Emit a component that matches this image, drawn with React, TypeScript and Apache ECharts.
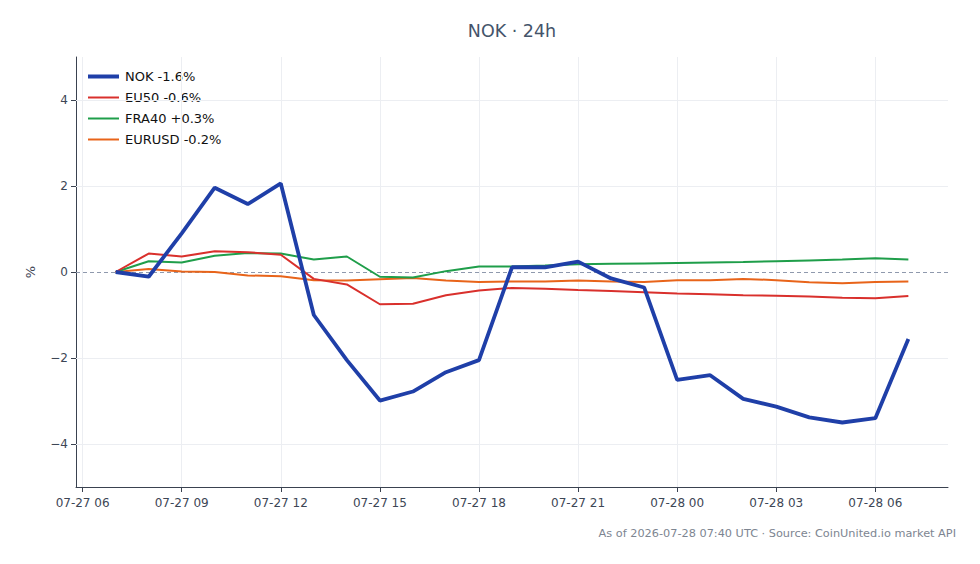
import React, { useEffect, useRef } from "react";
import * as echarts from "echarts";

// hours since 2026-07-27 00:00 UTC
const hours = [7, 8, 9, 10, 11, 12, 13, 14, 15, 16, 17, 18, 19, 20, 21, 22, 23, 24, 25, 26, 27, 28, 29, 30, 31];
const tickHours = [6, 9, 12, 15, 18, 21, 24, 27, 30];
const tickLabels = ["07-27 06", "07-27 09", "07-27 12", "07-27 15", "07-27 18", "07-27 21", "07-28 00", "07-28 03", "07-28 06"];
const yTicks = [-4, -2, 0, 2, 4];

const nok = [0, -0.11, 0.9, 1.96, 1.58, 2.06, -1.0, -2.05, -2.99, -2.78, -2.33, -2.05, 0.11, 0.11, 0.24, -0.15, -0.36, -2.51, -2.4, -2.95, -3.13, -3.38, -3.5, -3.4, -1.56];
const eu50 = [0, 0.43, 0.36, 0.48, 0.46, 0.4, -0.16, -0.29, -0.75, -0.74, -0.54, -0.43, -0.37, -0.39, -0.42, -0.44, -0.47, -0.5, -0.52, -0.54, -0.55, -0.57, -0.6, -0.61, -0.56];
const fra40 = [0, 0.25, 0.22, 0.38, 0.44, 0.43, 0.29, 0.36, -0.11, -0.13, 0.02, 0.13, 0.13, 0.15, 0.18, 0.19, 0.2, 0.21, 0.22, 0.23, 0.25, 0.27, 0.29, 0.32, 0.29];
const eurusd = [0, 0.07, 0.01, 0, -0.08, -0.1, -0.19, -0.2, -0.17, -0.14, -0.2, -0.23, -0.22, -0.22, -0.2, -0.22, -0.23, -0.19, -0.19, -0.16, -0.19, -0.24, -0.26, -0.23, -0.22];

const seriesNames = ["NOK -1.6%", "EU50 -0.6%", "FRA40 +0.3%", "EURUSD -0.2%"];
const seriesData = [nok, eu50, fra40, eurusd];
const colors = ["#1f3fa8", "#d9302c", "#1f9e4a", "#e8641a"];
const widths = [3.8, 2, 2, 2];

export default function App() {
  const ref = useRef<HTMLDivElement>(null);
  useEffect(() => {
    if (!ref.current) return;
    const chart = echarts.init(ref.current, null, { renderer: "svg" });
    const font = "DejaVu Sans";
    const gridLine = (data: any[]) => ({
      type: "line",
      data: [],
      silent: true,
      z: 0,
      markLine: {
        symbol: "none",
        silent: true,
        animation: false,
        label: { show: false },
        lineStyle: { color: "#eceef2", type: "solid", width: 1 },
        data,
      },
    });
    const series: any[] = [
      gridLine(tickHours.map((h) => ({ xAxis: h }))),
      gridLine(yTicks.filter((v) => v !== 0).map((v) => ({ yAxis: v }))),
      {
        type: "line",
        data: [],
        silent: true,
        z: 1,
        markLine: {
          symbol: "none",
          silent: true,
          label: { show: false },
          lineStyle: { color: "#8f99ad", type: [4, 3], width: 1 },
          data: [{ yAxis: 0 }],
        },
      },
    ];
    seriesNames.forEach((name, k) => {
      series.push({
        name,
        type: "line",
        data: hours.map((h, i) => [h, seriesData[k][i]]),
        showSymbol: false,
        symbol: "none",
        lineStyle: { color: colors[k], width: widths[k] },
        itemStyle: { color: colors[k] },
        z: 10 - k,
      });
    });
    chart.setOption({
      animation: false,
      textStyle: { fontFamily: font },
      legend: {
        left: 81,
        top: 65,
        orient: "vertical",
        itemWidth: 31,
        itemHeight: 10,
        itemGap: 8,
        itemStyle: { opacity: 0 },
        textStyle: { fontFamily: font, fontSize: 13, color: "#111", padding: [0, 0, 0, 1] },
        data: seriesNames.map((name, k) => ({
          name,
          lineStyle: { width: k === 0 ? 4 : 2, color: colors[k] },
        })),
      },
      grid: { left: 76, right: 32, top: 57, bottom: 77 },
      xAxis: {
        type: "value",
        min: 5.8,
        max: 32.2,
        axisLine: { show: true, onZero: false, lineStyle: { color: "#3a4250", width: 1 } },
        axisTick: { show: true, customValues: tickHours, length: 5, lineStyle: { color: "#3a4250" } },
        axisLabel: {
          customValues: tickHours,
          color: "#3d4655",
          fontSize: 12,
          fontFamily: font,
          margin: 10,
          formatter: (v: number) => {
            const idx = tickHours.indexOf(Math.round(v));
            return idx >= 0 ? tickLabels[idx] : "";
          },
        },
        splitLine: { show: false },
      },
      yAxis: {
        type: "value",
        min: -5,
        max: 5,
        interval: 1,
        name: "%",
        nameLocation: "middle",
        nameGap: 39,
        nameTextStyle: { fontFamily: font, fontSize: 13, color: "#3d4655" },
        axisLine: { show: true, onZero: false, lineStyle: { color: "#3a4250", width: 1 } },
        axisTick: { show: true, customValues: yTicks, length: 5, lineStyle: { color: "#3a4250" } },
        axisLabel: {
          customValues: yTicks,
          color: "#3d4655",
          fontSize: 12,
          fontFamily: font,
          formatter: (v: number) => (v < 0 ? "\u2212" + Math.abs(v) : String(v)),
        },
        splitLine: { show: false },
      },
      graphic: [
        {
          type: "text",
          x: 512,
          y: 31,
          style: {
            text: "NOK · 24h",
            fill: "#44546a",
            fontSize: 17.5,
            fontFamily: font,
            align: "center",
            verticalAlign: "middle",
          },
        },
        {
          type: "text",
          x: 956,
          y: 533,
          style: {
            text: "As of 2026-07-28 07:40 UTC · Source: CoinUnited.io market API",
            fill: "#7d8591",
            fontSize: 11.3,
            fontFamily: font,
            align: "right",
            verticalAlign: "middle",
          },
        },
      ],
      series,
    });
    return () => chart.dispose();
  }, []);
  return <div ref={ref} style={{ width: 980, height: 564, margin: -8 }} />;
}
